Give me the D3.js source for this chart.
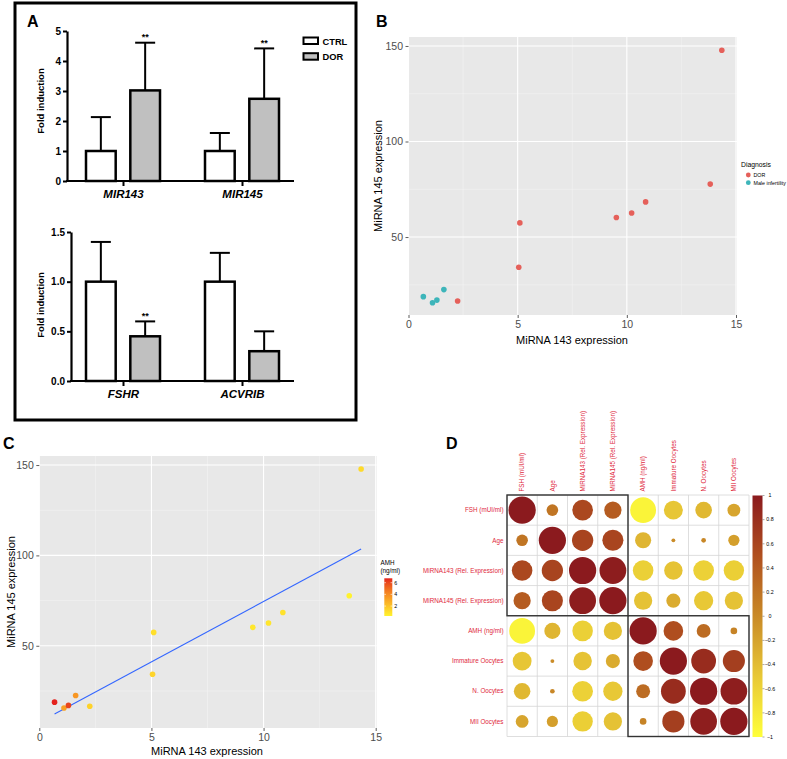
<!DOCTYPE html>
<html><head><meta charset="utf-8">
<script src="https://cdn.jsdelivr.net/npm/d3@7"></script>
<style>body{margin:0;background:#fff}svg{display:block;font-family:"Liberation Sans",Arial,Helvetica,sans-serif}</style>
</head><body><svg id="c" width="787" height="759"></svg>
<script>
// ---------------- DATA ----------------
// Panel A (bar charts, mean + SD)
const conditions = ["CTRL", "DOR"];
const groupsTop = ["MIR143", "MIR145"];
const ctrlTop = [1.0, 1.0];
const ctrlTopSD = [1.13, 0.60];
const dorTop = [3.02, 2.74];
const dorTopSD = [1.59, 1.68];
const sigTop = ["**", "**"];
const ticksTop = [0, 1, 2, 3, 4, 5];

const groupsBottom = ["FSHR", "ACVRIB"];
const ctrlBottom = [1.0, 1.0];
const ctrlBottomSD = [0.40, 0.29];
const dorBottom = [0.45, 0.30];
const dorBottomSD = [0.15, 0.20];
const sigBottom = ["**", ""];
const ticksBottom = [0, 0.5, 1.0, 1.5];

// Panels B & C (scatter)
const mir143 = [0.68, 1.10, 1.30, 1.62, 2.25, 5.05, 5.10, 9.52, 10.22, 10.86, 13.82, 14.35];
const mir145 = [18.8, 15.6, 17.0, 22.5, 16.5, 34.2, 57.4, 60.2, 62.6, 68.4, 77.7, 147.8];
const diagnosis = ["Male infertility", "Male infertility", "Male infertility", "Male infertility",
  "DOR", "DOR", "DOR", "DOR", "DOR", "DOR", "DOR", "DOR"];
const amh = [6.75, 3.3, 6.1, 3.6, 1.5, 1.4, 1.0, 0.7, 0.8, 0.9, 0.3, 1.2];
const diagLevels = ["DOR", "Male infertility"];
const xTicksScatter = [0, 5, 10, 15];
const yTicksScatter = [50, 100, 150];
const amhTicks = [2, 4, 6];

// Panel D (correlation matrix)
const corrVars = ["FSH (mUI/ml)", "Age", "MiRNA143 (Rel. Expression)", "MiRNA145 (Rel. Expression)",
  "AMH (ng/ml)", "Immature Oocytes", "N. Oocytes", "MII Oocytes"];
const corrMatrix = [
  [1.00, 0.18, 0.57, 0.40, -0.90, -0.48, -0.37, -0.22],
  [0.18, 1.00, 0.61, 0.60, -0.35, -0.02, 0.03, -0.17],
  [0.57, 0.61, 1.00, 0.97, -0.57, -0.46, -0.58, -0.56],
  [0.40, 0.60, 0.97, 1.00, -0.45, -0.27, -0.50, -0.45],
  [-0.90, -0.35, -0.57, -0.45, 1.00, 0.52, 0.26, 0.06],
  [-0.48, -0.02, -0.46, -0.27, 0.52, 1.00, 0.83, 0.66],
  [-0.37, 0.03, -0.58, -0.50, 0.26, 0.83, 1.00, 0.96],
  [-0.22, -0.17, -0.56, -0.45, 0.06, 0.66, 0.96, 1.00]
];
const corrClusters = [[0, 3], [4, 7]];
const corrTicks = [1, 0.8, 0.6, 0.4, 0.2, 0, -0.2, -0.4, -0.6, -0.8, -1];

// ---------------- DRAW ----------------
const svg = d3.select("#c");
svg.append("rect").attr("width", 787).attr("height", 759).attr("fill", "#fff");

function panelLetter(t, x, y) {
  svg.append("text").attr("x", x).attr("y", y).attr("font-size", 16).attr("font-weight", "bold").text(t);
}

// ===== Panel A =====
svg.append("rect").attr("x", 15).attr("y", 3).attr("width", 341).attr("height", 417)
  .attr("fill", "none").attr("stroke", "#000").attr("stroke-width", 3);
panelLetter("A", 27, 27);

function barChart(o) {
  const g = svg.append("g");
  const y = d3.scaleLinear().domain(o.yDomain).range(o.yRange);
  const x = d3.scalePoint().domain(o.groups).range([123, 242]);
  const inner = d3.scaleBand().domain(conditions).range([-37, 37]).paddingInner(0.33);
  const bw = inner.bandwidth();
  const rows = [];
  o.groups.forEach((grp, i) => {
    rows.push({grp, cond: "CTRL", v: o.ctrl[i], sd: o.ctrlSD[i], sig: ""});
    rows.push({grp, cond: "DOR", v: o.dor[i], sd: o.dorSD[i], sig: o.sig[i]});
  });
  // error bars
  rows.forEach(r => {
    const cx = x(r.grp) + inner(r.cond) + bw / 2;
    g.append("line").attr("x1", cx).attr("x2", cx).attr("y1", y(r.v)).attr("y2", y(r.v + r.sd))
      .attr("stroke", "#000").attr("stroke-width", 2);
    g.append("line").attr("x1", cx - 10).attr("x2", cx + 10).attr("y1", y(r.v + r.sd)).attr("y2", y(r.v + r.sd))
      .attr("stroke", "#000").attr("stroke-width", 2);
    if (r.sig) g.append("text").attr("x", cx).attr("y", y(r.v + r.sd) - 2.5).attr("text-anchor", "middle")
      .attr("font-size", 9).attr("font-weight", "bold").text(r.sig);
  });
  // bars
  g.selectAll("rect.bar").data(rows).join("rect").attr("class", "bar")
    .attr("x", d => x(d.grp) + inner(d.cond)).attr("width", bw)
    .attr("y", d => y(d.v)).attr("height", d => y(o.yDomain[0]) - y(d.v))
    .attr("fill", d => d.cond === "CTRL" ? "#fff" : "#c0c0c0")
    .attr("stroke", "#000").attr("stroke-width", 2.5);
  // y axis
  const ay = g.append("g").attr("transform", `translate(${o.axisX},0)`)
    .call(d3.axisLeft(y).tickValues(o.ticks).tickSize(4).tickSizeOuter(0).tickPadding(2).tickFormat(o.fmt));
  ay.select(".domain").attr("stroke-width", 2.2);
  ay.selectAll(".tick line").attr("stroke-width", 2);
  ay.selectAll(".tick text").attr("font-size", 10).attr("font-weight", "bold").attr("fill", "#000")
    .attr("font-family", "Liberation Sans, Arial, sans-serif");
  // x axis
  const y0 = y(o.yDomain[0]);
  g.append("line").attr("x1", o.axisX - 1).attr("x2", 294).attr("y1", y0).attr("y2", y0)
    .attr("stroke", "#000").attr("stroke-width", 2.2);
  const ax = g.append("g").attr("transform", `translate(0,${y0})`)
    .call(d3.axisBottom(x).tickSize(5).tickSizeOuter(0).tickPadding(4));
  ax.select(".domain").remove();
  ax.selectAll(".tick line").attr("stroke-width", 2);
  ax.selectAll(".tick text").attr("font-size", 11.5).attr("font-weight", "bold").attr("font-style", "italic")
    .attr("fill", "#000").attr("font-family", "Liberation Sans, Arial, sans-serif");
  // y label
  g.append("text").attr("transform", `translate(44,${o.labelY}) rotate(-90)`).attr("text-anchor", "middle")
    .attr("font-size", 9.5).attr("font-weight", "bold").text("Fold induction");
}

barChart({groups: groupsTop, ctrl: ctrlTop, ctrlSD: ctrlTopSD, dor: dorTop, dorSD: dorTopSD, sig: sigTop,
  yDomain: [0, 5], yRange: [181, 31], ticks: ticksTop, axisX: 67, fmt: d3.format("d"), labelY: 101});
barChart({groups: groupsBottom, ctrl: ctrlBottom, ctrlSD: ctrlBottomSD, dor: dorBottom, dorSD: dorBottomSD, sig: sigBottom,
  yDomain: [0, 1.5], yRange: [381, 232], ticks: ticksBottom, axisX: 71, fmt: d3.format(".1f"), labelY: 305});

// legend A
conditions.forEach((c, i) => {
  svg.append("rect").attr("x", 303.5).attr("y", 37.5 + i * 15.7).attr("width", 14.5).attr("height", 6.5)
    .attr("fill", c === "CTRL" ? "#fff" : "#c0c0c0").attr("stroke", "#000").attr("stroke-width", 2);
  svg.append("text").attr("x", 322.5).attr("y", 44.5 + i * 15.7).attr("font-size", 9.3)
    .attr("font-weight", "bold").text(c);
});

// ===== ggplot-style panels =====
function ggPanel(x, y, xTicks, yTicks) {
  const g = svg.append("g");
  const [xa, xb] = x.range(), [ya, yb] = y.range(); // ya bottom, yb top
  g.append("rect").attr("x", xa).attr("y", yb).attr("width", xb - xa + 1).attr("height", ya - yb).attr("fill", "#e8e8e8");
  const xMinor = xTicks.slice(0, -1).map((t, i) => (t + xTicks[i + 1]) / 2);
  const yAll = [yTicks[0] - (yTicks[1] - yTicks[0])].concat(yTicks);
  const yMinor = yAll.slice(0, -1).map((t, i) => (t + yAll[i + 1]) / 2).filter(v => v > y.domain()[0]);
  const yMinorTop = yTicks[yTicks.length - 1] + (yTicks[1] - yTicks[0]) / 2;
  if (yMinorTop < y.domain()[1]) yMinor.push(yMinorTop);
  xMinor.forEach(v => g.append("line").attr("x1", x(v)).attr("x2", x(v)).attr("y1", yb).attr("y2", ya).attr("stroke", "#f4f4f4").attr("stroke-width", 0.6));
  yMinor.forEach(v => g.append("line").attr("y1", y(v)).attr("y2", y(v)).attr("x1", xa).attr("x2", xb + 1).attr("stroke", "#f4f4f4").attr("stroke-width", 0.6));
  xTicks.forEach(v => g.append("line").attr("x1", x(v)).attr("x2", x(v)).attr("y1", yb).attr("y2", ya).attr("stroke", "#fff").attr("stroke-width", 1.1));
  yTicks.forEach(v => g.append("line").attr("y1", y(v)).attr("y2", y(v)).attr("x1", xa).attr("x2", xb + 1).attr("stroke", "#fff").attr("stroke-width", 1.1));
  const ax = g.append("g").attr("transform", `translate(0,${ya})`)
    .call(d3.axisBottom(x).tickValues(xTicks).tickSize(3).tickSizeOuter(0).tickPadding(2.5).tickFormat(d3.format("d")));
  ax.select(".domain").remove();
  ax.selectAll(".tick line").attr("stroke", "#333").attr("stroke-width", 0.8);
  ax.selectAll(".tick text").attr("font-size", 10.5).attr("fill", "#4d4d4d").attr("font-family", "Liberation Sans, Arial, sans-serif");
  const ay = g.append("g").attr("transform", `translate(${xa},0)`)
    .call(d3.axisLeft(y).tickValues(yTicks).tickSize(3).tickSizeOuter(0).tickPadding(2.5).tickFormat(d3.format("d")));
  ay.select(".domain").remove();
  ay.selectAll(".tick line").attr("stroke", "#333").attr("stroke-width", 0.8);
  ay.selectAll(".tick text").attr("font-size", 10.5).attr("fill", "#4d4d4d").attr("font-family", "Liberation Sans, Arial, sans-serif");
  return g;
}

const pts = mir143.map((v, i) => ({x: v, y: mir145[i], d: diagnosis[i], a: amh[i]}));

// ===== Panel B =====
panelLetter("B", 376, 27);
const xB = d3.scaleLinear().domain([0, 15]).range([408.5, 736]);
const yB = d3.scaleLinear().domain([9.2, 154.7]).range([315, 37]);
const gB = ggPanel(xB, yB, xTicksScatter, yTicksScatter);
const diagColor = d3.scaleOrdinal().domain(diagLevels).range(["#e5605a", "#3db5ba"]);
gB.selectAll("circle.p").data(pts).join("circle").attr("class", "p")
  .attr("cx", d => xB(d.x)).attr("cy", d => yB(d.y)).attr("r", 2.8).attr("fill", d => diagColor(d.d));
svg.append("text").attr("x", 572).attr("y", 344).attr("text-anchor", "middle").attr("font-size", 11).text("MiRNA 143 expression");
svg.append("text").attr("transform", `translate(382,176) rotate(-90)`).attr("text-anchor", "middle").attr("font-size", 11).text("MiRNA 145 expression");
svg.append("text").attr("x", 741).attr("y", 167).attr("font-size", 6.8).text("Diagnosis");
diagLevels.forEach((l, i) => {
  svg.append("circle").attr("cx", 748.3).attr("cy", 175 + i * 7.7).attr("r", 2.4).attr("fill", diagColor(l));
  svg.append("text").attr("x", 753.5).attr("y", 177 + i * 7.7).attr("font-size", 5.3).text(l);
});

// ===== Panel C =====
panelLetter("C", 3, 449);
const xC = d3.scaleLinear().domain([0, 15]).range([39.3, 375.7]);
const yC = d3.scaleLinear().domain([4.5, 155]).range([728, 456]);
const gC = ggPanel(xC, yC, xTicksScatter, yTicksScatter);
const amhExt = d3.extent(amh);
const amhColor = d3.scaleLinear().domain(amhExt).range(["#fff22e", "#e4211c"]).interpolate(d3.interpolateLab);
// linear regression from data
const mx = d3.mean(mir143), my = d3.mean(mir145);
const slope = d3.sum(pts, p => (p.x - mx) * (p.y - my)) / d3.sum(pts, p => (p.x - mx) ** 2);
const icpt = my - slope * mx;
const xr = d3.extent(mir143);
gC.append("line").attr("x1", xC(xr[0])).attr("x2", xC(xr[1]))
  .attr("y1", yC(icpt + slope * xr[0])).attr("y2", yC(icpt + slope * xr[1]))
  .attr("stroke", "#3366ff").attr("stroke-width", 1.1);
gC.selectAll("circle.p").data(pts).join("circle").attr("class", "p")
  .attr("cx", d => xC(d.x)).attr("cy", d => yC(d.y)).attr("r", 2.8).attr("fill", d => amhColor(d.a));
svg.append("text").attr("x", 207).attr("y", 755).attr("text-anchor", "middle").attr("font-size", 11).text("MiRNA 143 expression");
svg.append("text").attr("transform", `translate(15,592) rotate(-90)`).attr("text-anchor", "middle").attr("font-size", 11).text("MiRNA 145 expression");
// AMH colourbar
svg.append("text").attr("x", 380.5).attr("y", 565).attr("font-size", 6.3).text("AMH");
svg.append("text").attr("x", 380.5).attr("y", 573).attr("font-size", 6.3).text("(ng/ml)");
const defs = svg.append("defs");
const gradC = defs.append("linearGradient").attr("id", "gradC").attr("x1", 0).attr("x2", 0).attr("y1", 1).attr("y2", 0);
d3.range(0, 1.0001, 0.1).forEach(t => gradC.append("stop").attr("offset", t)
  .attr("stop-color", amhColor(amhExt[0] + t * (amhExt[1] - amhExt[0]))));
const yLeg = d3.scaleLinear().domain(amhExt).range([616, 578.3]);
svg.append("rect").attr("x", 384.3).attr("y", 578.3).attr("width", 8).attr("height", 616 - 578.3).attr("fill", "url(#gradC)");
amhTicks.forEach(t => {
  svg.append("line").attr("x1", 384.3).attr("x2", 386).attr("y1", yLeg(t)).attr("y2", yLeg(t)).attr("stroke", "#fff").attr("stroke-width", 0.6);
  svg.append("line").attr("x1", 390.6).attr("x2", 392.3).attr("y1", yLeg(t)).attr("y2", yLeg(t)).attr("stroke", "#fff").attr("stroke-width", 0.6);
  svg.append("text").attr("x", 394.3).attr("y", yLeg(t) + 2).attr("font-size", 5.3).text(t);
});

// ===== Panel D =====
panelLetter("D", 446, 449);
const n = corrVars.length;
const cellX = d3.scaleBand().domain(d3.range(n)).range([507, 749]);
const cellY = d3.scaleBand().domain(d3.range(n)).range([495, 736.5]);
const cs = cellX.bandwidth();
const corrColor = d3.scaleLinear().domain([-1, -0.5, 0, 0.5, 1])
  .range(["#ffff3a", "#e8c836", "#c98a27", "#b0501f", "#8b1a1e"]);
const rScale = d3.scaleSqrt().domain([0, 1]).range([0, cs * 0.45]);
const gD = svg.append("g");
gD.append("rect").attr("x", 507).attr("y", 495).attr("width", 242).attr("height", 241.5).attr("fill", "#fff");
d3.range(n + 1).forEach(i => {
  const xx = i < n ? cellX(i) : 749, yy = i < n ? cellY(i) : 736.5;
  gD.append("line").attr("x1", xx).attr("x2", xx).attr("y1", 495).attr("y2", 736.5).attr("stroke", "#d6d6d6").attr("stroke-width", 0.8);
  gD.append("line").attr("y1", yy).attr("y2", yy).attr("x1", 507).attr("x2", 749).attr("stroke", "#d6d6d6").attr("stroke-width", 0.8);
});
const cells = [];
corrMatrix.forEach((row, i) => row.forEach((v, j) => cells.push({i, j, v})));
gD.selectAll("circle.c").data(cells).join("circle").attr("class", "c")
  .attr("cx", d => cellX(d.j) + cs / 2).attr("cy", d => cellY(d.i) + cs / 2)
  .attr("r", d => rScale(Math.abs(d.v))).attr("fill", d => corrColor(d.v));
corrClusters.forEach(([a, b]) => {
  gD.append("rect").attr("x", cellX(a)).attr("y", cellY(a))
    .attr("width", cellX(b) + cs - cellX(a)).attr("height", cellY(b) + cellY.bandwidth() - cellY(a))
    .attr("fill", "none").attr("stroke", "#333").attr("stroke-width", 1.4);
});
corrVars.forEach((v, i) => {
  gD.append("text").attr("x", 503.5).attr("y", cellY(i) + cs / 2 + 2.2).attr("text-anchor", "end")
    .attr("font-size", 6.3).attr("fill", "#e0283c").text(v);
  gD.append("text").attr("transform", `translate(${cellX(i) + cs / 2 + 2.2},491.5) rotate(-90)`)
    .attr("font-size", 6.3).attr("fill", "#e0283c").text(v);
});
// corr colourbar
const gradD = defs.append("linearGradient").attr("id", "gradD").attr("x1", 0).attr("x2", 0).attr("y1", 1).attr("y2", 0);
d3.range(-1, 1.0001, 0.1).forEach(t => gradD.append("stop").attr("offset", (t + 1) / 2).attr("stop-color", corrColor(t)));
const yCb = d3.scaleLinear().domain([-1, 1]).range([737, 495.5]);
gD.append("rect").attr("x", 752.5).attr("y", 495.5).attr("width", 10).attr("height", 737 - 495.5).attr("fill", "url(#gradD)");
corrTicks.forEach(t => {
  gD.append("line").attr("x1", 762.5).attr("x2", 764.5).attr("y1", yCb(t)).attr("y2", yCb(t)).attr("stroke", "#555").attr("stroke-width", 0.5);
  gD.append("text").attr("x", 770).attr("y", yCb(t) + 1.8).attr("text-anchor", "middle").attr("font-size", 5.3).text(d3.format("")(t));
});
</script></body></html>
